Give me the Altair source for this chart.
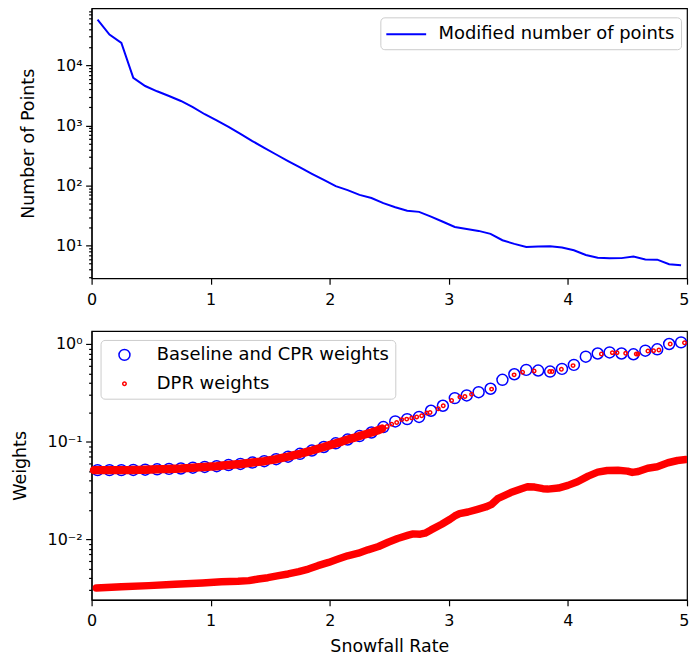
import altair as alt
import pandas as pd

FONT = "DejaVu Sans"

# ---------------- top panel: number of points per snowfall bin ----------------
bin_x = [0.05, 0.15, 0.25, 0.35, 0.45, 0.55, 0.65, 0.75, 0.85, 0.95,
         1.05, 1.15, 1.25, 1.35, 1.45, 1.55, 1.65, 1.75, 1.85, 1.95,
         2.05, 2.15, 2.25, 2.35, 2.45, 2.55, 2.65, 2.75, 2.85, 2.95,
         3.05, 3.15, 3.25, 3.35, 3.45, 3.55, 3.65, 3.75, 3.85, 3.95,
         4.05, 4.15, 4.25, 4.35, 4.45, 4.55, 4.65, 4.75, 4.85, 4.95]
n_points = [58000, 32700, 23700, 6230, 4540, 3710, 3100, 2560, 2030, 1540,
            1220, 948, 726, 550, 426, 329, 256, 200, 157, 124,
            98, 84, 70, 62, 51, 43.6, 38, 36.5, 30.5, 25,
            20.5, 19, 17.6, 15.7, 12.3, 10.7, 9.5, 9.7, 9.8, 9.3,
            8.4, 7.0, 6.3, 6.15, 6.2, 6.6, 5.9, 5.85, 4.9, 4.7]

# ---------------- bottom panel: weights ----------------
base_w = [0.051, 0.051, 0.051, 0.0512, 0.0515, 0.052, 0.0525, 0.053, 0.054, 0.055,
          0.056, 0.0575, 0.059, 0.061, 0.063, 0.066, 0.070, 0.075, 0.081, 0.088,
          0.096, 0.105, 0.114, 0.124, 0.141, 0.161, 0.170, 0.179, 0.207, 0.233,
          0.279, 0.297, 0.321, 0.348, 0.430, 0.49, 0.543, 0.535, 0.522, 0.556,
          0.611, 0.742, 0.80, 0.82, 0.80, 0.785, 0.855, 0.883, 1.0, 1.04]

# DPR weights, dense upper branch (reads as a continuous band)
dpr_up_x = [0.02, 0.05, 0.10, 0.15, 0.20, 0.25, 0.30, 0.35, 0.40, 0.45,
            0.50, 0.55, 0.60, 0.65, 0.70, 0.75, 0.80, 0.85, 0.90, 0.95,
            1.00, 1.05, 1.10, 1.15, 1.20, 1.25, 1.30, 1.35, 1.40, 1.45,
            1.50, 1.55, 1.60, 1.65, 1.70, 1.75, 1.80, 1.85, 1.90, 1.95,
            2.00, 2.05, 2.10, 2.15, 2.20, 2.25, 2.30, 2.35, 2.40, 2.44]
dpr_up_w = [0.051, 0.051, 0.051, 0.051, 0.051, 0.051, 0.051, 0.0512, 0.0513, 0.0515,
            0.0517, 0.052, 0.0522, 0.0525, 0.0528, 0.053, 0.0535, 0.054, 0.0545, 0.055,
            0.0555, 0.056, 0.0568, 0.0575, 0.0582, 0.059, 0.060, 0.061, 0.062, 0.063,
            0.0645, 0.066, 0.068, 0.070, 0.0725, 0.075, 0.078, 0.081, 0.0845, 0.088,
            0.092, 0.096, 0.100, 0.105, 0.109, 0.114, 0.119, 0.124, 0.130, 0.136]

# DPR weights, dense lower branch
dpr_lo_x = [0.04, 0.25, 0.48, 0.70, 0.93, 1.09, 1.23, 1.32, 1.40, 1.48,
            1.57, 1.65, 1.74, 1.82, 1.90, 1.99, 2.07, 2.15, 2.24, 2.32,
            2.41, 2.49, 2.57, 2.66, 2.70, 2.76, 2.80, 2.85, 2.94, 3.01,
            3.05, 3.09, 3.16, 3.24, 3.31, 3.36, 3.41, 3.47, 3.52, 3.61,
            3.66, 3.72, 3.79, 3.83, 3.92, 4.00, 4.08, 4.17, 4.25, 4.33,
            4.42, 4.50, 4.54, 4.59, 4.67, 4.75, 4.84, 4.92, 4.99]
dpr_lo_w = [0.00316, 0.00326, 0.00334, 0.00345, 0.00356, 0.00366, 0.00370, 0.00376, 0.00391, 0.00403,
            0.00423, 0.0044, 0.00464, 0.00494, 0.00535, 0.00578, 0.00625, 0.00676, 0.00719, 0.00778,
            0.00841, 0.0093, 0.01017, 0.01099, 0.01133, 0.01124, 0.01151, 0.01245, 0.01422, 0.016,
            0.0173, 0.01828, 0.019, 0.02024, 0.02138, 0.02277, 0.026, 0.0281, 0.03, 0.0329,
            0.0345, 0.0342, 0.0329, 0.0326, 0.0334, 0.0356, 0.0388, 0.0443, 0.0486, 0.0506,
            0.0509, 0.0498, 0.0483, 0.0494, 0.0534, 0.0552, 0.0607, 0.064, 0.0655]

# DPR weights, individual points where the upper branch thins out
dpr_pt_x = [2.48, 2.52, 2.562, 2.604, 2.646, 2.688, 2.730, 2.772, 2.814, 2.842,
            2.911, 2.953, 3.023, 3.093, 3.135, 3.191, 3.359, 3.548, 3.619, 3.716,
            3.847, 3.867, 3.945, 4.043, 4.281, 4.373, 4.412, 4.485, 4.574, 4.588,
            4.672, 4.719, 4.764, 4.859, 4.979]
dpr_pt_w = [0.143, 0.151, 0.157, 0.168, 0.170, 0.175, 0.179, 0.184, 0.196, 0.199,
            0.217, 0.233, 0.264, 0.286, 0.290, 0.306, 0.345, 0.483, 0.514, 0.530,
            0.522, 0.522, 0.551, 0.601, 0.791, 0.816, 0.816, 0.803, 0.791, 0.791,
            0.849, 0.855, 0.868, 1.0, 1.03]

SERIES_TOP = "Modified number of points"
SERIES_BASE = "Baseline and CPR weights"
SERIES_DPR = "DPR weights"

SUP = {0: "\u2070", 1: "\u00b9", 2: "\u00b2", 3: "\u00b3", 4: "\u2074"}
MINUS = "\u207b"


def log_label_expr(exps):
    parts = []
    for e in exps:
        v = 10.0 ** e
        lab = "10" + (MINUS if e < 0 else "") + SUP[abs(e)]
        parts.append(f"abs(datum.value - {v!r}) < {v * 1e-6!r} ? '{lab}'")
    return " : ".join(parts) + " : ''"


MAJOR_TEST = "abs(log(datum.value)/LN10 - round(log(datum.value)/LN10)) < 0.001"
tick_size = {"condition": {"test": MAJOR_TEST, "value": 6}, "value": 3}

top_exps = [1, 2, 3, 4]
top_ticks = [m * 10 ** e for e in [0, 1, 2, 3, 4] for m in range(1, 10)]
top_ticks = [t for t in top_ticks if 2.87 <= t <= 89000]
bot_exps = [-2, -1, 0]
bot_ticks = [round(m * 10.0 ** e, 6) for e in [-3, -2, -1, 0] for m in range(1, 10)]
bot_ticks = [t for t in bot_ticks if 0.00239 <= t <= 1.36]

x_scale = alt.Scale(domain=[0, 5], nice=False, zero=False)

# the last tick label sits at the window's right edge: keep it inside the page
LAST_TEST = "datum.value >= 5"


def x_axis(title=None):
    kw = dict(values=[0, 1, 2, 3, 4, 5], format="d", tickSize=6, labelPadding=7,
              labelFlush=False, grid=False,
              labelAlign={"condition": {"test": LAST_TEST, "value": "right"},
                          "value": "center"},
              labelOffset={"condition": {"test": LAST_TEST, "value": 2}, "value": 0})
    if title:
        kw["title"] = title
        kw["titlePadding"] = 9
    else:
        kw["title"] = None
    return alt.Axis(**kw)


# ---------------- top chart ----------------
top_df = pd.DataFrame({"x": bin_x, "n": n_points, "series": [SERIES_TOP] * len(bin_x)})
top = alt.Chart(top_df).mark_line(strokeWidth=2, clip=True).encode(
    x=alt.X("x:Q", scale=x_scale, axis=x_axis()),
    y=alt.Y("n:Q",
            scale=alt.Scale(type="log", domain=[2.87, 89000], nice=False),
            axis=alt.Axis(values=top_ticks, labelExpr=log_label_expr(top_exps),
                          tickSize=tick_size, labelPadding=3.5, grid=False,
                          title="Number of Points", titlePadding=18)),
    color=alt.Color("series:N",
                    scale=alt.Scale(domain=[SERIES_TOP], range=["#0000ff"]),
                    legend=alt.Legend(orient="none", legendX=290, legendY=9, title=None,
                                      symbolType="M-2,0L2,0", symbolSize=400,
                                      symbolStrokeWidth=2, symbolOffset=9,
                                      labelOffset=21.5,
                                      padding=6, fillColor="white",
                                      strokeColor="#cccccc", cornerRadius=4,
                                      labelFont=FONT, labelFontSize=18,
                                      labelLimit=600, labelColor="black")),
).properties(width=598, height=271)

# ---------------- bottom chart ----------------
base_df = pd.DataFrame({"x": bin_x, "w": base_w, "series": [SERIES_BASE] * len(bin_x)})
up_df = pd.DataFrame({"x": dpr_up_x, "w": dpr_up_w})
lo_df = pd.DataFrame({"x": dpr_lo_x, "w": dpr_lo_w})
pt_df = pd.DataFrame({"x": dpr_pt_x, "w": dpr_pt_w, "series": [SERIES_DPR] * len(dpr_pt_x)})

y_bot = alt.Y("w:Q",
              scale=alt.Scale(type="log", domain=[0.00239, 1.36], nice=False),
              axis=alt.Axis(values=bot_ticks, labelExpr=log_label_expr(bot_exps),
                            tickSize=tick_size, labelPadding=3.5, grid=False,
                            title="Weights", titlePadding=18))
x_bot = alt.X("x:Q", scale=x_scale, axis=x_axis("Snowfall Rate"))

leg = alt.Legend(orient="none", legendX=9, legendY=9, title=None,
                 padding=6, rowPadding=11, symbolOffset=9, labelOffset=23.5,
                 symbolStrokeWidth=1.5, fillColor="white", strokeColor="#cccccc",
                 cornerRadius=4, labelFont=FONT, labelFontSize=18,
                 labelLimit=600, labelColor="black")
color_bot = alt.Color("series:N",
                      scale=alt.Scale(domain=[SERIES_BASE, SERIES_DPR],
                                      range=["#0000ff", "#ff0000"]),
                      legend=leg)
size_bot = alt.Size("series:N",
                    scale=alt.Scale(domain=[SERIES_BASE, SERIES_DPR], range=[121, 12]),
                    legend=leg)

blue = alt.Chart(base_df).mark_point(filled=False, strokeWidth=1.5, opacity=1,
                                     shape="circle").encode(
    x=x_bot, y=y_bot, color=color_bot, size=size_bot)
up_line = alt.Chart(up_df).mark_line(color="#ff0000", strokeWidth=8.5,
                                     strokeCap="round", strokeJoin="round").encode(
    x=x_bot, y=y_bot)
lo_line = alt.Chart(lo_df).mark_line(color="#ff0000", strokeWidth=7.5,
                                     strokeCap="round", strokeJoin="round",
                                     clip=True).encode(x=x_bot, y=y_bot)
red_pts = alt.Chart(pt_df).mark_point(filled=False, strokeWidth=1.5, opacity=1,
                                      shape="circle").encode(
    x=x_bot, y=y_bot, color=color_bot, size=size_bot)

bottom = alt.layer(blue, up_line, lo_line, red_pts).properties(width=598, height=270)

chart = alt.vconcat(top, bottom, spacing=22).resolve_scale(
    color="independent", size="independent"
).resolve_legend(
    color="independent", size="independent"
).properties(
    padding={"left": 10, "top": 6, "right": 0, "bottom": 0}
).configure_view(
    stroke="black", strokeWidth=1.2
).configure_axis(
    labelFont=FONT, labelFontSize=16, labelColor="black",
    titleFont=FONT, titleFontSize=17.5, titleFontWeight="normal", titleColor="black",
    domainColor="black", domainWidth=1.2, tickColor="black", tickWidth=1.2,
)

chart.save("out.html", embed_options={"renderer": "svg", "actions": False})
